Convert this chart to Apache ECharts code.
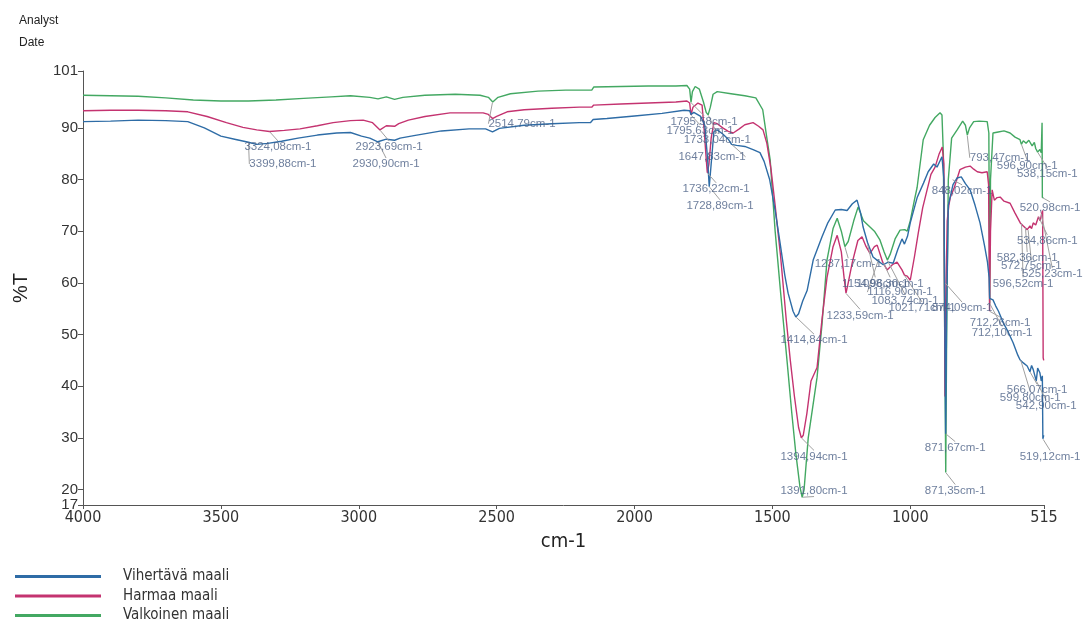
<!DOCTYPE html>
<html><head><meta charset="utf-8">
<script src="https://cdn.jsdelivr.net/npm/echarts@6/dist/echarts.min.js"></script>
<style>html,body{margin:0;padding:0;background:#fff}#c{width:1087px;height:625px}</style>
</head><body><div id="c"></div>
<script>
// ---- data ----
const seriesNames = ['Vihertävä maali', 'Harmaa maali', 'Valkoinen maali'];
const seriesColors = ['#2e6ca6', '#c43370', '#43a862'];

const blueWn = [4000,3900,3800,3700,3620,3560,3500,3450,3400,3370,3330,3280,3220,3150,3080,3030,2990,2960,2931,2900,2870,2850,2800,2700,2600,2540,2515,2490,2400,2300,2200,2160,2150,2100,2000,1900,1820,1800,1795,1785,1760,1745,1735,1729,1722,1712,1700,1680,1660,1648,1630,1600,1570,1545,1530,1510,1490,1472,1455,1443,1425,1415,1405,1390,1374,1352,1320,1300,1272,1250,1229,1210,1193,1180,1171,1155,1135,1116,1098,1080,1062,1045,1030,1021,1010,1000,975,952,935,915,903,885,878,875,871.67,868,862,845,830,815,800,783,765,747,730,720,714,712,700,690,680,663,645,627,610,602,590,576,566,560,554,548,543,538,530,525,521,519.12,516];
const blueT  = [91.2,91.3,91.5,91.4,91.2,90.0,88.4,87.8,87.2,86.8,87.0,87.4,88.0,88.6,89.0,89.1,88.4,88.0,87.3,87.8,87.6,88.0,88.5,89.4,89.8,89.8,89.2,89.9,90.5,90.8,91.0,91.0,91.6,91.8,92.3,92.8,93.4,93.3,92.6,93.0,92.2,90.5,84.0,78.6,83.0,89.3,89.6,88.8,87.8,86.8,86.6,86.4,85.8,85.2,83.5,80.0,74.0,67.7,61.5,58.0,54.5,53.4,54.0,56.5,58.5,64.4,68.9,71.5,74.1,74.2,74.0,75.3,76.0,73.5,70.8,67.8,65.0,64.2,63.5,64.0,63.8,66.5,68.5,67.5,69.0,71.6,76.5,79.3,81.5,83.0,82.4,84.4,80.0,55.0,30.8,55.0,75.0,79.0,80.3,80.5,79.2,78.0,75.0,71.6,67.0,64.0,61.0,57.0,56.7,55.5,54.5,52.3,50.5,48.4,46.0,45.1,44.5,43.9,42.8,44.0,43.2,42.0,41.0,43.5,42.6,41.0,42.0,29.8,30.5];

const redWn = [4000,3900,3800,3700,3620,3550,3480,3420,3370,3324,3270,3213,3150,3093,3030,2984,2950,2923,2900,2870,2855,2820,2760,2669,2600,2549,2530,2515,2500,2462,2400,2300,2200,2155,2148,2050,1950,1850,1810,1800,1795,1788,1770,1755,1748,1740,1736,1730,1722,1712,1700,1680,1660,1642,1620,1600,1570,1550,1534,1520,1505,1490,1470,1450,1435,1420,1405,1395,1388,1375,1360,1338,1320,1302,1280,1265,1250,1240,1233,1225,1210,1190,1175,1160,1146,1130,1120,1100,1084,1065,1048,1030,1021,1011,1000,985,971,955,939,925,910,895,884,878,874.09,870,866,860,855,840,820,800,783,770,757,740,721,716,712.26,709,703,695,685,674,660,638,620,601,590,576,566,560,554,545,535,529,523,520,518,516];
const redT  = [93.3,93.4,93.4,93.3,93.1,92.2,91.0,90.1,89.6,89.3,89.5,89.8,90.4,91.0,91.4,91.5,91.0,89.6,90.4,90.3,90.8,91.5,92.2,92.9,92.9,92.9,92.6,91.8,92.2,93.1,93.5,93.8,94.0,94.0,94.4,94.6,94.8,95.0,95.2,94.8,92.5,94.0,94.8,94.4,90.0,84.0,81.3,83.0,88.0,91.0,90.8,90.0,89.3,89.0,89.8,90.6,91.0,90.3,89.6,87.0,82.0,75.0,65.0,53.0,45.0,38.0,32.0,30.0,30.5,34.7,41.0,43.6,53.0,61.0,67.0,69.2,66.0,61.0,58.0,60.0,64.0,68.2,68.9,67.0,65.7,67.0,67.3,64.0,62.5,63.5,64.0,62.5,61.5,61.3,60.5,65.0,69.6,74.5,78.0,81.0,82.4,85.0,86.3,83.0,38.0,60.0,72.0,75.0,76.5,78.5,81.9,82.4,82.6,82.0,81.5,81.3,81.5,79.0,54.5,70.0,78.0,76.0,76.5,76.6,75.8,75.4,73.5,71.6,71.0,70.3,71.0,70.5,71.6,71.2,72.8,72.0,73.5,74.0,45.5,45.0];

const greenWn = [4000,3900,3800,3700,3600,3500,3400,3300,3200,3100,3030,2960,2930,2900,2870,2840,2760,2650,2560,2530,2514,2495,2450,2350,2250,2155,2148,2050,1950,1850,1810,1800,1795,1790,1780,1765,1750,1740,1733,1725,1715,1700,1650,1600,1560,1535,1520,1508,1490,1470,1447,1430,1415,1400,1392,1385,1370,1338,1320,1302,1280,1265,1250,1237,1225,1205,1189,1170,1146,1130,1110,1095,1083,1073,1055,1037,1020,1011,1000,985,975,953,930,910,892,885,880,875,871.35,868,862,850,830,810,800,793,785,770,750,721,715,712.1,709,700,681,660,638,620,602,597,590,580,570,565,558,550,545,538,530,525,522,520.98,517];
const greenT  = [96.3,96.2,96.1,95.8,95.4,95.2,95.2,95.4,95.7,96.0,96.2,95.9,95.6,96.0,95.5,95.9,96.3,96.5,96.3,95.9,95.0,95.9,96.6,97.1,97.3,97.3,97.9,98.0,98.1,98.1,98.2,97.5,94.9,97.0,98.0,97.5,95.0,93.0,92.5,94.0,96.5,97.0,96.6,96.2,95.8,93.5,88.0,83.8,70.0,58.0,45.0,35.0,27.0,20.5,18.5,20.0,30.0,41.7,52.0,64.4,70.5,72.5,70.0,67.0,68.0,72.0,74.7,72.0,70.8,70.0,68.3,66.0,64.4,65.5,68.5,70.2,70.3,70.0,72.0,76.0,78.5,87.7,90.5,92.0,92.9,92.5,85.0,50.0,23.3,50.0,80.0,88.0,89.6,91.3,90.5,88.6,90.0,91.2,91.3,91.2,89.0,56.0,80.0,89.0,89.2,89.4,89.0,88.2,87.7,86.8,87.5,87.0,87.6,87.5,86.5,87.2,86.0,85.3,85.8,85.2,91.0,76.5,76.5];

const xTicks = [4000, 3500, 3000, 2500, 2000, 1500, 1000, 515];
const yTicks = [17, 20, 30, 40, 50, 60, 70, 80, 90, 101];

// peak annotations: text, peak wavenumber / %T, label anchor (wavenumber / %T)
const peakText = ['3324,08cm-1','3399,88cm-1','2923,69cm-1','2930,90cm-1','2514,79cm-1','1795,58cm-1','1795,63cm-1','1733,04cm-1','1647,83cm-1','1736,22cm-1','1728,89cm-1','1414,84cm-1','1394,94cm-1','1391,80cm-1','1237,17cm-1','1233,59cm-1','1154,96cm-1','1098,30cm-1','1116,90cm-1','1083,74cm-1','1021,71cm-1','874,09cm-1','848,02cm-1','793,47cm-1','596,90cm-1','538,15cm-1','520,98cm-1','534,86cm-1','582,36cm-1','572,75cm-1','525,23cm-1','596,52cm-1','712,26cm-1','712,10cm-1','566,07cm-1','599,80cm-1','542,90cm-1','871,67cm-1','871,35cm-1','519,12cm-1'];
const peakWn = [3324.08,3399.88,2923.69,2930.90,2514.79,1795.58,1795.63,1733.04,1647.83,1736.22,1728.89,1414.84,1394.94,1391.80,1237.17,1233.59,1154.96,1098.30,1116.90,1083.74,1021.71,874.09,848.02,793.47,596.90,538.15,520.98,534.86,582.36,572.75,525.23,596.52,712.26,712.10,566.07,599.80,542.90,871.67,871.35,519.12];
const peakT  = [89.3,87.2,89.6,87.3,95.0,94.9,92.5,92.5,86.8,81.3,78.6,53.4,30.0,18.5,67.0,58.0,67.5,64.0,64.2,64.4,61.5,60.0,80.0,88.6,86.8,85.3,76.5,72.8,70.8,70.3,73.5,71.6,54.5,56.0,42.8,45.1,41.0,30.8,23.3,29.8];
const labelWn = [3293,3275,2890,2901,2408,1748,1762,1700,1719,1704,1690,1349,1349,1349,1225,1182,1127,1073,1037,1019,957,812,812,674,576,503,493,503,576,561,485,591,674,667,540,565,507,837,837,493];
const labelT  = [86.3,83.0,86.3,83.0,90.8,91.2,89.4,87.7,84.4,78.2,74.9,48.9,26.4,19.8,63.6,53.7,59.9,59.9,58.2,56.6,55.1,55.1,77.8,84.2,82.6,81.1,74.5,68.1,64.8,63.2,61.7,59.9,52.2,50.4,39.2,37.8,36.1,28.1,19.8,26.4];

// ---- chart ----
const chart = echarts.init(document.getElementById('c'), null, {renderer: 'canvas'});
const pairs = (a, b) => a.map((v, i) => [v, b[i]]);
const seriesData = [pairs(blueWn, blueT), pairs(redWn, redT), pairs(greenWn, greenT)];
const condensed = "'Liberation Sans Narrow', 'DejaVu Sans Condensed', 'Liberation Sans', sans-serif";

const lineSeries = seriesNames.map((n, i) => ({
  name: n, type: 'line', data: seriesData[i], showSymbol: false, symbol: 'none',
  lineStyle: {color: seriesColors[i], width: 1.4}, itemStyle: {color: seriesColors[i]},
  z: 3 - i, clip: true
}));

const peakSeries = {
  type: 'scatter', name: 'peaks', silent: true, clip: false, z: 10,
  symbolSize: 1, itemStyle: {color: 'rgba(0,0,0,0)'},
  data: peakWn.map((w, i) => ({name: peakText[i], value: [w, peakT[i]]})),
  label: {show: true, formatter: '{b}', fontSize: 11.5, color: '#4a5f84',
          fontFamily: "'Liberation Sans', Arial, sans-serif"},
  labelLine: {show: true, lineStyle: {color: '#a0a0a0', width: 1}},
  labelLayout: function (p) {
    const i = p.dataIndex;
    const pt = chart.convertToPixel({gridIndex: 0}, [labelWn[i], labelT[i]]);
    return {x: pt[0], y: pt[1], align: 'center', verticalAlign: 'middle', hideOverlap: false};
  }
};

chart.setOption({
  animation: false,
  backgroundColor: '#fff',
  title: {text: 'Analyst\nDate', left: 14, top: 5,
          textStyle: {fontSize: 12, fontWeight: 'normal', color: '#222', lineHeight: 22,
                      fontFamily: "'Liberation Sans', Arial, sans-serif"}},
  grid: {left: 83, right: 43, top: 71, bottom: 120},
  legend: {
    data: seriesNames, orient: 'vertical', left: 15, top: 569, itemGap: 4.5, padding: 0,
    icon: 'rect', itemWidth: 86, itemHeight: 3,
    textStyle: {fontSize: 15, color: '#333', fontFamily: condensed, padding: [0, 0, 0, 17], lineHeight: 15}
  },
  xAxis: {
    type: 'value', min: 515, max: 4000, inverse: true,
    name: 'cm-1', nameLocation: 'middle', nameGap: 27,
    nameTextStyle: {fontSize: 20, color: '#222', fontFamily: condensed},
    axisLine: {show: true, lineStyle: {color: '#555', width: 1}},
    axisTick: {show: true, length: 4, customValues: xTicks, lineStyle: {color: '#555'}},
    axisLabel: {customValues: xTicks, fontSize: 16, color: '#333', margin: 5, fontFamily: condensed,
                formatter: v => String(v)},
    splitLine: {show: false}
  },
  yAxis: {
    type: 'value', min: 17, max: 101,
    name: '%T', nameLocation: 'middle', nameGap: 52, nameRotate: 90,
    nameTextStyle: {fontSize: 20, color: '#222', fontFamily: "'Liberation Sans', Arial, sans-serif"},
    axisLine: {show: true, lineStyle: {color: '#555', width: 1}},
    axisTick: {show: true, length: 5, customValues: yTicks, lineStyle: {color: '#555'}},
    axisLabel: {customValues: yTicks, fontSize: 15, color: '#333', margin: 5,
                fontFamily: "'Liberation Sans', Arial, sans-serif", formatter: v => String(v)},
    splitLine: {show: false}
  },
  series: lineSeries.concat([peakSeries])
});
</script>
</body></html>
